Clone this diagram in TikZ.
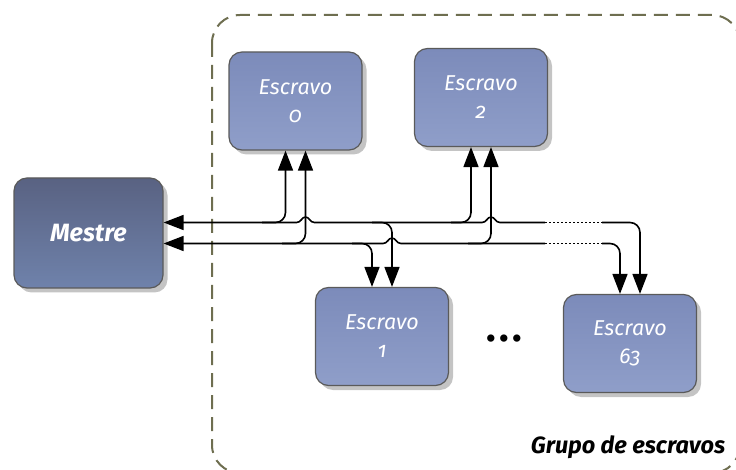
\documentclass[tikz,border=0pt]{standalone}
\usepackage{fontspec}
\setmainfont{Fira Sans}[Numbers=OldStyle]
\usetikzlibrary{arrows.meta,calc,shadows}

\definecolor{boxline}{HTML}{5A5A5A}
\definecolor{slaveTop}{HTML}{7C8BBA}
\definecolor{slaveBot}{HTML}{8F9EC9}
\definecolor{masterTop}{HTML}{596282}
\definecolor{masterBot}{HTML}{6F82AB}
\definecolor{groupline}{HTML}{6E6E50}
\definecolor{shadowgray}{HTML}{C4C4C4}

% bus levels (y grows downwards)
\def\yU{222.5}
\def\yL{243.5}
% a small hop of a bus line over a crossing riser at x=#1, level #2
\def\hop#1#2{-- ({#1-9},#2) .. controls ({#1-4},#2) and ({#1-4},{#2-5.5}) .. (#1,{#2-5.5}) .. controls ({#1+4},{#2-5.5}) and ({#1+4},#2) .. ({#1+9},#2)}

\tikzset{
  bigtip/.tip={Triangle[length=20pt,width=15pt]},
  unitbox/.style={draw=boxline, line width=1.2pt, rounded corners=13pt,
    text=white, align=center,
    drop shadow={shadow xshift=4.5pt, shadow yshift=-4.5pt, fill=shadowgray, opacity=1}},
  slavebox/.style={unitbox, top color=slaveTop, bottom color=slaveBot,
    minimum width=133pt, minimum height=98pt,
    font=\fontsize{21.5}{28}\selectfont\itshape},
  masterbox/.style={unitbox, top color=masterTop, bottom color=masterBot,
    minimum width=149pt, minimum height=110pt,
    font=\fontsize{25}{30}\selectfont\bfseries\itshape},
  link/.style={line width=1.6pt, black, rounded corners=10pt},
  bus/.style={line width=1.6pt, black},
  farbus/.style={line width=1.6pt, black, dash pattern=on 2pt off 2pt},
  groupframe/.style={draw=groupline, line width=2pt, rounded corners=28pt,
    dash pattern=on 14pt off 8pt},
}

\begin{document}
\begin{tikzpicture}[x=1pt,y=-1pt]
\useasboundingbox (0,0) rectangle (736,470);
\clip (0,0) rectangle (736,470);

% slave group frame
\draw[groupframe] (212,15) rectangle (740,473);
\node[anchor=base, font=\fontsize{23.5}{28}\selectfont\bfseries\itshape] (grp) at (628,453) {Grupo de escravos};

% units
\node[masterbox] (m)   at (88.5,233)   {Mestre};
\node[slavebox]  (e0)  at (295.5,101)  {Escravo\\0};
\node[slavebox]  (e2)  at (481,97.5)   {Escravo\\2};
\node[slavebox]  (e1)  at (382,336.5)  {Escravo\\1};
\node[slavebox]  (e63) at (630,343.5)  {Escravo\\63};
\node[anchor=base, font=\fontsize{40}{40}\selectfont\bfseries] (dots) at (504.5,341)
  {.\hspace{3.5pt}.\hspace{3.5pt}.};

\coordinate (mU) at (m.east |- 0,\yU);
\coordinate (mL) at (m.east |- 0,\yL);

% the two bus lines towards the master
\draw[bus, {bigtip}-] (mU) \hop{305.5}{\yU} \hop{491}{\yU} -- (545,\yU);
\draw[bus, {bigtip}-] (mL) \hop{392}{\yL} -- (545,\yL);
\draw[farbus] (545,\yU) -- (602,\yU);
\draw[farbus] (545,\yL) -- (602,\yL);

% risers to each slave
\draw[link, {bigtip}-] ($(e0.south)+(-10,0)$) |- (262,\yU);
\draw[link, {bigtip}-] ($(e0.south)+(10,0)$)  |- (282,\yL);
\draw[link, {bigtip}-] ($(e1.north)+(-10,0)$) |- (352,\yL);
\draw[link, {bigtip}-] ($(e1.north)+(10,0)$)  |- (372,\yU);
\draw[link, {bigtip}-] ($(e2.south)+(-10,0)$) |- (451,\yU);
\draw[link, {bigtip}-] ($(e2.south)+(10,0)$)  |- (468,\yL);
\draw[link, {bigtip}-] ($(e63.north)+(10,0)$) |- (602,\yU);
\draw[link, {bigtip}-] ($(e63.north)+(-10,0)$) |- (602,\yL);
\end{tikzpicture}
\end{document}
